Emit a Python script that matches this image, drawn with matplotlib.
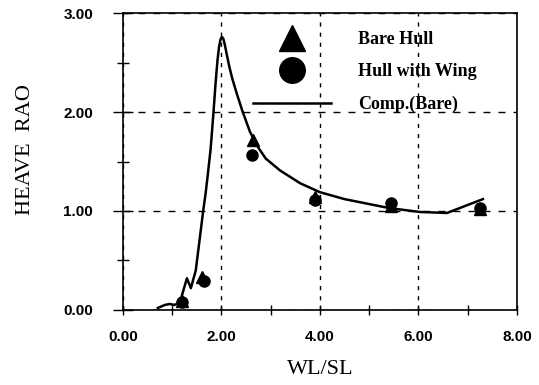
import matplotlib
matplotlib.use('Agg')
import matplotlib.pyplot as plt
from matplotlib.ticker import MultipleLocator

# 计算曲线 (Comp. Bare)
comp_x = [0.71, 0.85, 0.95, 1.05, 1.16, 1.30, 1.38, 1.48, 1.53, 1.58, 1.63, 1.68, 1.72,
          1.78, 1.84, 1.88, 1.92, 1.95, 1.98, 2.01, 2.04, 2.07, 2.11, 2.16, 2.22, 2.31,
          2.42, 2.58, 2.75, 2.90, 3.19, 3.60, 4.00, 4.50, 5.00, 5.40, 6.03, 6.58, 7.31]
comp_y = [0.02, 0.05, 0.06, 0.05, 0.08, 0.32, 0.22, 0.40, 0.60, 0.80, 1.00, 1.18, 1.35,
          1.62, 2.00, 2.28, 2.52, 2.65, 2.73, 2.76, 2.74, 2.68, 2.58, 2.46, 2.34, 2.19,
          2.02, 1.80, 1.64, 1.53, 1.41, 1.28, 1.19, 1.12, 1.07, 1.03, 0.99, 0.98, 1.12]

# 实验点
bare_x = [1.20, 1.60, 2.65, 3.90, 5.45, 7.25]
bare_y = [0.09, 0.33, 1.72, 1.14, 1.05, 1.02]
wing_x = [1.20, 1.65, 2.63, 3.90, 5.45, 7.25]
wing_y = [0.08, 0.29, 1.57, 1.11, 1.08, 1.03]

fig = plt.figure(figsize=(5.39, 3.85), dpi=100)
ax = fig.add_axes([0.228, 0.195, 0.731, 0.771])

ax.plot(comp_x, comp_y, color='black', lw=1.8, label='Comp.(Bare)', zorder=3)
ax.plot(bare_x, bare_y, '^', color='black', ms=8, label='Bare Hull', zorder=4)
ax.plot(wing_x, wing_y, 'o', color='black', ms=8, label='Hull with Wing', zorder=4)

ax.set_xlim(0, 8)
ax.set_ylim(0, 3)
ax.xaxis.set_major_locator(MultipleLocator(2))
ax.xaxis.set_minor_locator(MultipleLocator(1))
ax.yaxis.set_major_locator(MultipleLocator(1))
ax.yaxis.set_minor_locator(MultipleLocator(0.5))
ax.xaxis.set_major_formatter(lambda v, p: '%.2f' % v)
ax.yaxis.set_major_formatter(lambda v, p: '%.2f' % v)

ax.xaxis.grid(True, which='major', color='black', lw=1.0, linestyle=(0, (3, 4.3)))
ax.yaxis.grid(True, which='major', color='black', lw=1.0, linestyle=(0, (5, 5.8)))

ax.tick_params(axis='x', which='major', direction='inout', length=7, width=1.0, pad=11)
ax.tick_params(axis='x', which='minor', direction='inout', length=7, width=1.0)
ax.tick_params(axis='y', which='major', direction='inout', length=14, width=1.0, pad=14.5)
ax.tick_params(axis='y', which='minor', direction='inout', length=9, width=1.0)
for lab in ax.get_xticklabels() + ax.get_yticklabels():
    lab.set_family('Liberation Sans')
    lab.set_fontweight('bold')
    lab.set_fontsize(11)
for sp in ax.spines.values():
    sp.set_linewidth(1.2)

ax.set_xlabel('WL/SL', family='Liberation Serif', fontsize=16, labelpad=11.5)
ax.set_ylabel('HEAVE  RAO', family='Liberation Serif', fontsize=16)
ax.yaxis.set_label_coords(-0.224, 0.54)

h, l = ax.get_legend_handles_labels()
order = [1, 2, 0]
leg = fig.legend([h[i] for i in order], [l[i] for i in order], loc='upper left',
                 bbox_to_anchor=(253 / 539, 1 - 31 / 385), bbox_transform=fig.transFigure,
                 frameon=False, markerscale=2.3, borderpad=0, borderaxespad=0,
                 handlelength=4.3, handletextpad=1.5, labelspacing=0.85,
                 prop={'family': 'Liberation Serif', 'weight': 'bold', 'size': 13})

fig.savefig('out.png', dpi=100)
